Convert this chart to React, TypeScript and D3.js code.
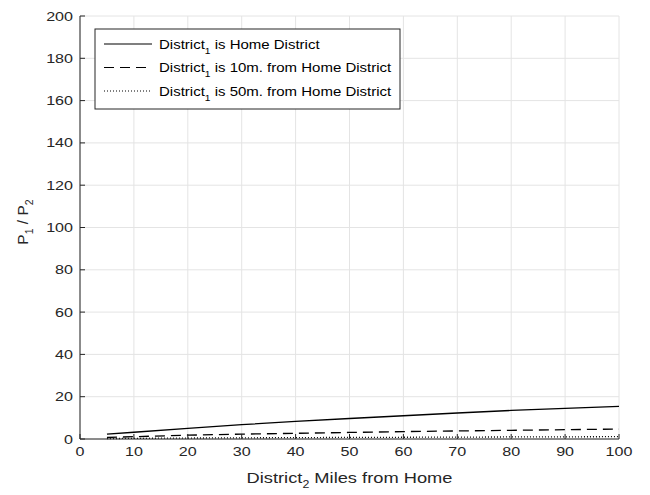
import React from "react";
import * as d3 from "d3";

const xVals = [5, 10, 20, 30, 40, 50, 60, 70, 80, 90, 100];
const homeSeries = [2.3, 3.2, 5.0, 6.8, 8.3, 9.7, 11.0, 12.3, 13.5, 14.5, 15.4];
const tenSeries = [0.7, 1.1, 1.8, 2.3, 2.7, 3.1, 3.5, 3.8, 4.1, 4.4, 4.7];
const fiftySeries = [0.2, 0.3, 0.45, 0.55, 0.65, 0.75, 0.82, 0.9, 0.97, 1.03, 1.1];
const xTicks = [0, 10, 20, 30, 40, 50, 60, 70, 80, 90, 100];
const yTicks = [0, 20, 40, 60, 80, 100, 120, 140, 160, 180, 200];

const W = 650, H = 495;
const left = 80, right = 619, top = 16, bottom = 439;
const axisColor = "#262626";
const gridColor = "#e4e4e4";
const font = "'Liberation Sans', Arial, Helvetica, sans-serif";
const SX = 1.24;

function ST({ x, y, sx = SX, rotate = 0, children, ...rest }: any) {
  return (
    <text transform={`translate(${x},${y}) rotate(${rotate}) scale(${sx},1)`} {...rest}>
      {children}
    </text>
  );
}

export default function App() {
  const x = d3.scaleLinear().domain([0, 100]).range([left, right]);
  const y = d3.scaleLinear().domain([0, 200]).range([bottom, top]);
  const line = d3.line<number>().x((_, i) => x(xVals[i])).y((d) => y(d));

  const series = [
    { data: homeSeries, dash: undefined as string | undefined, label: "is Home District" },
    { data: tenSeries, dash: "10,6", label: "is 10m. from Home District" },
    { data: fiftySeries, dash: "1,2", label: "is 50m. from Home District" },
  ];

  const legX = 95, legY = 29, legW = 305, legH = 80;

  return (
    <svg width={W} height={H} style={{ position: "absolute", left: 0, top: 0, background: "#fff" }} fontFamily={font}>
      <rect x={0} y={0} width={W} height={H} fill="#fff" />
      {xTicks.map((t) => (
        <line key={"gx" + t} x1={x(t)} x2={x(t)} y1={top} y2={bottom} stroke={gridColor} strokeWidth={1} />
      ))}
      {yTicks.map((t) => (
        <line key={"gy" + t} x1={left} x2={right} y1={y(t)} y2={y(t)} stroke={gridColor} strokeWidth={1} />
      ))}
      {series.map((s, i) => (
        <path key={i} d={line(s.data) || ""} fill="none" stroke="#000" strokeWidth={1.3} strokeDasharray={s.dash} />
      ))}
      <line x1={left} x2={left} y1={top} y2={bottom} stroke={axisColor} strokeWidth={1} />
      <line x1={left} x2={right} y1={bottom} y2={bottom} stroke={axisColor} strokeWidth={1} />
      {xTicks.map((t) => (
        <g key={"xt" + t}>
          <line x1={x(t)} x2={x(t)} y1={bottom} y2={bottom - 5} stroke={axisColor} />
          <ST x={x(t)} y={bottom + 17} textAnchor="middle" fontSize={13} fill={axisColor}>{t}</ST>
        </g>
      ))}
      {yTicks.map((t) => (
        <g key={"yt" + t}>
          <line x1={left} x2={left + 5} y1={y(t)} y2={y(t)} stroke={axisColor} />
          <ST x={left - 7} y={y(t) + 4.5} textAnchor="end" fontSize={13} fill={axisColor}>{t}</ST>
        </g>
      ))}
      <ST x={(left + right) / 2} y={483} sx={1.18} textAnchor="middle" fontSize={15.5} fill={axisColor}>
        District<tspan fontSize={10.5} dy={5}>2</tspan><tspan dy={-5}> Miles from Home</tspan>
      </ST>
      <ST x={28} y={222} sx={1.0} rotate={-90} textAnchor="middle" fontSize={15.5} fill={axisColor}>
        P<tspan fontSize={10.5} dy={5}>1</tspan><tspan dy={-5}> / P</tspan><tspan fontSize={10.5} dy={5}>2</tspan>
      </ST>
      <rect x={legX} y={legY} width={legW} height={legH} fill="#fff" stroke={axisColor} strokeWidth={1} />
      {series.map((s, i) => {
        const ly = 44 + i * 23.5;
        return (
          <g key={"lg" + i}>
            <line x1={104} x2={152} y1={ly} y2={ly} stroke="#000" strokeWidth={1.1} strokeDasharray={s.dash} />
            <ST x={159} y={ly + 4.5} textAnchor="start" fontSize={12.5} sx={1.2} fill="#000">
              District<tspan fontSize={8.5} dy={5}>1</tspan><tspan dy={-5}> {s.label}</tspan>
            </ST>
          </g>
        );
      })}
    </svg>
  );
}
